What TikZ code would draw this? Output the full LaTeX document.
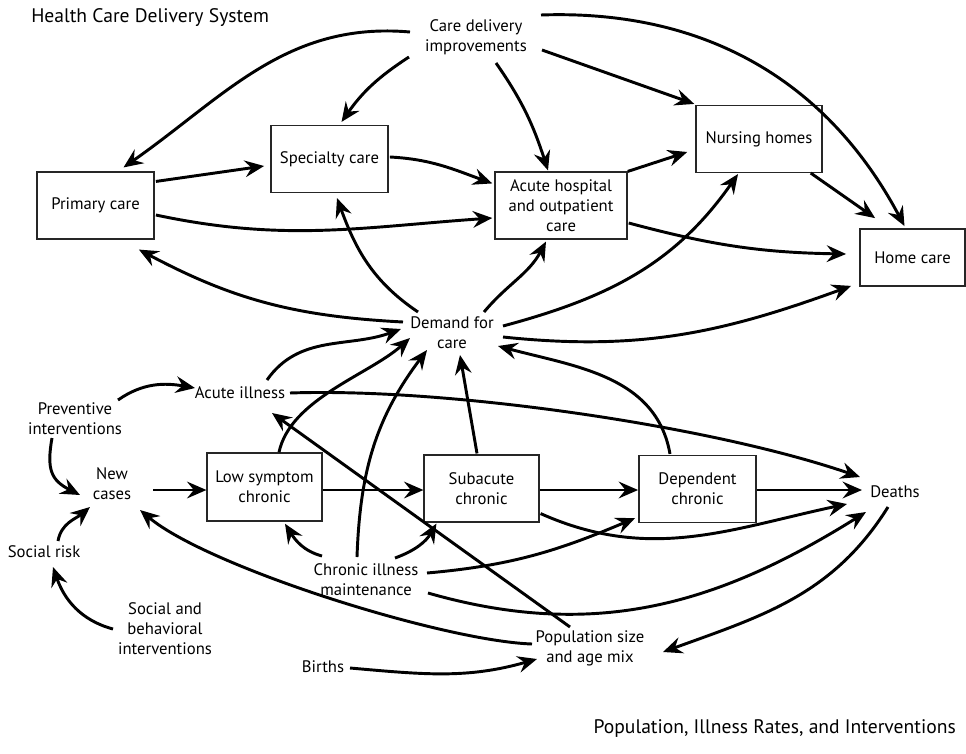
\documentclass[tikz,border=0pt]{standalone}
\usepackage{fontspec}
\setmainfont{PT Sans}
\usetikzlibrary{arrows.meta,calc}

\tikzset{
  box/.style={draw=black!85, line width=1.1pt, minimum width=88pt, minimum height=50pt, align=center, inner sep=2pt},
  txt/.style={align=center, inner sep=0pt},
  flow/.style={-{Stealth[length=14.5pt,width=12.5pt,inset=5pt]}, line width=2.2pt},
  heading/.style={txt, font=\fontsize{14.7}{18}\selectfont},
}

\begin{document}
\begin{tikzpicture}[x=0.75pt, y=0.75pt, font=\fontsize{12.5}{15}\selectfont]
\useasboundingbox (0,0) rectangle (966,-753);

% headings
\node[heading, anchor=west] (hcds) at (31,-18) {Health Care Delivery System};
\node[heading, anchor=east] (pir) at (956,-729) {Population, Illness Rates, and Interventions};

% delivery system
\node[txt] (cdi) at (476,-37) {Care delivery\\improvements};
\node[box] (primary) at (95.5,-205.5) {Primary care};
\node[box] (specialty) at (329.5,-159) {Specialty care};
\node[box, minimum width=99pt] (hosp) at (561,-205.5) {Acute hospital\\and outpatient\\care};
\node[box, minimum width=94.5pt] (nursing) at (759,-139) {Nursing homes};
\node[box, minimum width=79pt, minimum height=43pt] (home) at (912.5,-257.5) {Home care};
\node[txt] (demand) at (452,-333) {Demand for\\care};

% population and illness
\node[txt] (acuteill) at (240,-393) {Acute illness};
\node[txt] (prevent) at (75,-419) {Preventive\\interventions};
\node[txt] (newcases) at (112,-484) {New\\cases};
\node[txt] (socrisk) at (44,-552) {Social risk};
\node[box, minimum width=86pt, minimum height=51pt] (lowsym) at (264.5,-487) {Low symptom\\chronic};
\node[box, minimum width=86pt] (subacute) at (481.5,-488.5) {Subacute\\chronic};
\node[box] (dependent) at (697.5,-489) {Dependent\\chronic};
\node[txt] (deaths) at (895,-492) {Deaths};
\node[txt] (chronic) at (366,-580) {Chronic illness\\maintenance};
\node[txt] (socbeh) at (165,-629) {Social and\\behavioral\\interventions};
\node[txt] (births) at (323,-667) {Births};
\node[txt] (population) at (590,-648) {Population size\\and age mix};

% improvements
\draw[flow] ($(cdi)+(-66,5)$) to[out=175,in=35] ($(primary.north)+(28,4)$);
\draw[flow] ($(cdi)+(-67,-20)$) to[out=213,in=55] ($(specialty.north)+(12,3)$);
\draw[flow] ($(cdi)+(20,-26)$) to[out=-55,in=108] ($(hosp.north)+(-13,1)$);
\draw[flow] ($(cdi)+(66,-13)$) -- ($(nursing.north west)+(-1,1)$);
\draw[flow] ($(cdi)+(65,22)$) to[out=2,in=118] ($(home.north)+(-8,2)$);

% referrals
\draw[flow] ($(primary.north east)+(1,-10)$) -- ($(specialty.west)+(-6,-7)$);
\draw[flow] ($(specialty.east)+(1,2)$) to[out=-3,in=160] ($(hosp.north west)+(-2,-12)$);
\draw[flow] ($(primary.east)+(1,-9.5)$) to[out=-12,in=184] ($(hosp.west)+(-2,-12.5)$);
\draw[flow] (hosp.north east) -- ($(nursing.west)+(-8,-13)$);
\draw[flow] ($(hosp.east)+(1,-17.5)$) to[out=-15,in=179] ($(home.west)+(-13,3.5)$);
\draw[flow] ($(nursing.south east)+(-12,0)$) -- ($(home.north west)+(16,10)$);

% demand to services
\draw[flow] ($(demand)+(-49,11)$) to[out=177,in=-28] ($(primary.south east)+(-16,-10)$);
\draw[flow] ($(demand)+(-34,21)$) to[out=146,in=-70] ($(specialty.south)+(7.5,-5)$);
\draw[flow] ($(demand)+(32,21)$) to[out=50,in=-118] ($(hosp.south)+(-15,-2)$);
\draw[flow] ($(demand)+(51,7)$) to[out=15,in=-125] ($(nursing.south)+(-21,-1)$);
\draw[flow] ($(demand)+(51,-4)$) to[out=-6,in=200] ($(home.south west)+(-8,1)$);

% sources of demand
\draw[flow] ($(dependent.north)+(-27.5,1)$) to[out=100,in=-15] ($(demand)+(46,-13)$);
\draw[flow] ($(subacute.north)+(-4.5,1)$) -- ($(demand)+(8,-22)$);
\draw[flow] ($(lowsym.north)+(14.5,0)$) to[out=78,in=-138,looseness=0.8] ($(demand)+(-42,-5)$);
\draw[flow] ($(acuteill)+(27,13)$) to[out=55,in=200] ($(demand)+(-51,4)$);
\draw[flow] ($(chronic)+(-9,23)$) to[out=88,in=-127] ($(demand)+(-25,-17)$);

% illness progression
\draw[flow] ($(acuteill)+(50,0)$) to[out=2,in=161,looseness=0.7] ($(deaths)+(-35,15)$);
\draw[flow] ($(newcases)+(41,-6)$) -- ($(lowsym.west)+(0,-3)$);
\draw[flow] ($(lowsym.east)+(0,-3)$) -- ($(subacute.west)+(0,-1.5)$);
\draw[flow] ($(subacute.east)+(0,-1.5)$) -- ($(dependent.west)+(0,-1)$);
\draw[flow] ($(dependent.east)+(0,-1)$) -- ($(deaths)+(-33,2)$);
\draw[flow] ($(subacute.south east)+(1,9)$) to[out=-24,in=192] ($(deaths)+(-48,-12)$);

% maintenance
\draw[flow] ($(chronic)+(29,22)$) to[out=20,in=-120] ($(subacute.south west)+(13,-1)$);
\draw[flow] ($(chronic)+(-44,24)$) to[out=165,in=-58] ($(lowsym.south)+(20.5,-2)$);
\draw[flow] ($(chronic)+(61,7)$) to[out=5,in=203] ($(dependent.south west)+(-3,5)$);
\draw[flow] ($(chronic)+(62,-13)$) to[out=-16,in=212] ($(deaths)+(-29,-20)$);

% population
\draw[flow] ($(population)+(-20,21)$) -- ($(acuteill)+(32,-20)$);
\draw[flow] ($(population)+(-58,4)$) to[out=178,in=-40,looseness=0.55] ($(newcases)+(28,-26)$);
\draw[flow] ($(births)+(27,-1)$) to[out=-5,in=196] ($(population)+(-53,-11)$);
\draw[flow] ($(deaths)+(-7,-15)$) to[out=-122,in=20] ($(population)+(73,-4)$);

% prevention and risk
\draw[flow] ($(prevent)+(43,19)$) to[out=35,in=170] ($(acuteill)+(-45,5)$);
\draw[flow] ($(prevent)+(-23,-19)$) to[out=-100,in=153,looseness=1.3] ($(newcases)+(-32,-11)$);
\draw[flow] ($(socrisk)+(14,11)$) to[out=80,in=-140] ($(newcases)+(-22,-23)$);
\draw[flow] ($(socbeh)+(-52,0)$) to[out=165,in=-71] ($(socrisk)+(9,-15)$);
\end{tikzpicture}
\end{document}
